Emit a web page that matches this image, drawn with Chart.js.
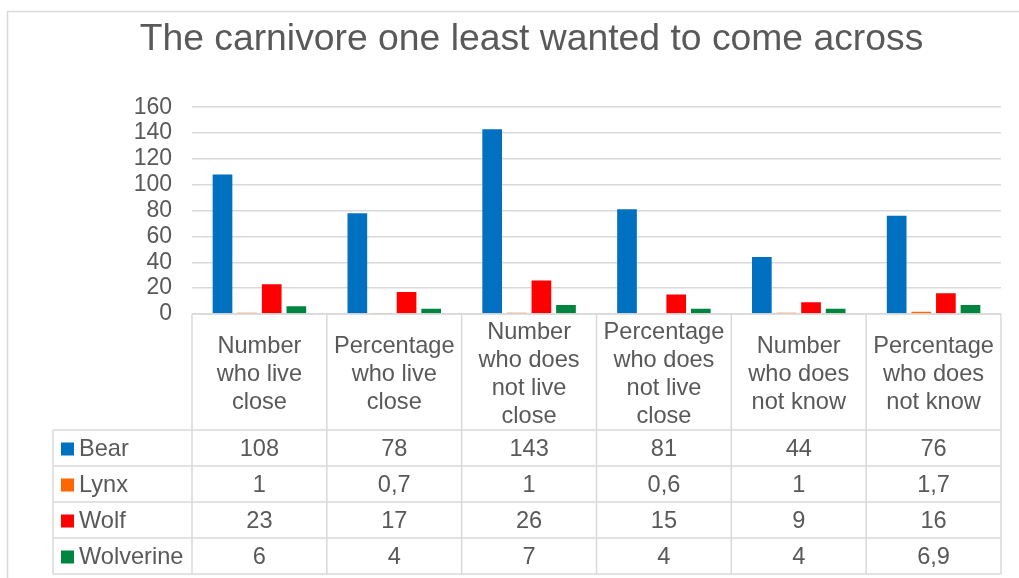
<!DOCTYPE html>
<html>
<head>
<meta charset="utf-8">
<script src="https://cdn.jsdelivr.net/npm/chart.js@4/dist/chart.umd.min.js"></script>
<style>
  html, body { margin: 0; padding: 0; background: #fff; }
</style>
</head>
<body>
<canvas id="carnivoreChart" width="1019" height="578"></canvas>
<script>
// categories (header lines of the data table)
const categories = [
  ["Number", "who live", "close"],
  ["Percentage", "who live", "close"],
  ["Number", "who does", "not live", "close"],
  ["Percentage", "who does", "not live", "close"],
  ["Number", "who does", "not know"],
  ["Percentage", "who does", "not know"]
];

const bearValues = [108, 78, 143, 81, 44, 76];
const lynxValues = [1, 0.7, 1, 0.6, 1, 1.7];
const wolfValues = [23, 17, 26, 15, 9, 16];
const wolverineValues = [6, 4, 7, 4, 4, 6.9];

const yMin = 0;
const yMax = 160;
const yStep = 20;

const textColor = "#595959";
const lineColor = "#d9d9d9";
const fontFamily = "'Liberation Sans', Arial, sans-serif";

// numbers in the table use a decimal comma
function fmt(v) {
  return String(v).replace(".", ",");
}

// draws the frame and the data table under the plot, using the x scale
const dataTable = {
  id: "dataTable",
  beforeDraw(chart) {
    const ctx = chart.ctx;
    ctx.save();
    ctx.strokeStyle = lineColor;
    ctx.lineWidth = 1.5;
    ctx.strokeRect(7.5, 11.5, 1300, 800);
    ctx.restore();
  },
  afterDraw(chart) {
    const ctx = chart.ctx;
    const x = chart.scales.x;
    const area = chart.chartArea;
    const n = categories.length;
    const colW = (area.right - area.left) / n;
    const top = area.bottom;
    const headBottom = top + 116;
    const rowH = 36;
    const tableLeft = 53;
    const sets = chart.data.datasets;
    const bottom = headBottom + rowH * sets.length;

    ctx.save();
    ctx.strokeStyle = lineColor;
    ctx.lineWidth = 1.5;
    ctx.beginPath();
    ctx.moveTo(area.left, top);
    ctx.lineTo(area.right, top);
    for (let r = 0; r <= sets.length; r++) {
      const yy = headBottom + r * rowH;
      ctx.moveTo(tableLeft, yy);
      ctx.lineTo(area.right, yy);
    }
    ctx.moveTo(tableLeft, headBottom);
    ctx.lineTo(tableLeft, bottom);
    for (let i = 0; i <= n; i++) {
      const xx = area.left + i * colW;
      ctx.moveTo(xx, top);
      ctx.lineTo(xx, bottom);
    }
    ctx.stroke();

    ctx.font = "23.6px " + fontFamily;
    ctx.textBaseline = "middle";
    ctx.fillStyle = textColor;
    ctx.textAlign = "center";
    const lineH = 28;
    const headMid = (top + headBottom) / 2 + 2;
    categories.forEach(function (lines, i) {
      const cx = x.getPixelForValue(i);
      lines.forEach(function (ln, j) {
        ctx.fillText(ln, cx, headMid + (j - (lines.length - 1) / 2) * lineH);
      });
    });

    sets.forEach(function (ds, r) {
      const cy = headBottom + r * rowH + rowH / 2 + 1.5;
      ctx.fillStyle = ds.backgroundColor;
      ctx.fillRect(61, cy - 7, 13, 13);
      ctx.fillStyle = textColor;
      ctx.textAlign = "left";
      ctx.fillText(ds.label, 79, cy);
      ctx.textAlign = "center";
      ds.data.forEach(function (v, i) {
        ctx.fillText(fmt(v), x.getPixelForValue(i), cy);
      });
    });
    ctx.restore();
  }
};

new Chart(document.getElementById("carnivoreChart"), {
  type: "bar",
  data: {
    labels: categories.map(function (c) { return c.join(" "); }),
    datasets: [
      { label: "Bear", data: bearValues, backgroundColor: "#0070c0" },
      { label: "Lynx", data: lynxValues, backgroundColor: "#ff6600" },
      { label: "Wolf", data: wolfValues, backgroundColor: "#ff0000" },
      { label: "Wolverine", data: wolverineValues, backgroundColor: "#008540" }
    ]
  },
  options: {
    responsive: false,
    animation: false,
    datasets: {
      bar: { categoryPercentage: 0.73, barPercentage: 0.8 }
    },
    layout: {
      padding: { left: 62, right: 18, top: 0, bottom: 264 }
    },
    plugins: {
      legend: { display: false },
      tooltip: { enabled: false },
      title: {
        display: true,
        text: "The carnivore one least wanted to come across",
        color: textColor,
        font: { family: fontFamily, size: 37.3, weight: "normal", lineHeight: 1.2 },
        padding: { top: 17, bottom: 45.4 }
      }
    },
    scales: {
      x: { display: false },
      y: {
        min: yMin,
        max: yMax,
        afterFit: function (scale) { scale.width = 130; },
        ticks: {
          stepSize: yStep,
          autoSkip: false,
          padding: 20,
          color: textColor,
          font: { family: fontFamily, size: 23 }
        },
        grid: { color: lineColor, lineWidth: 1.5, drawTicks: false },
        border: { display: false }
      }
    }
  },
  plugins: [dataTable]
});
</script>
</body>
</html>
